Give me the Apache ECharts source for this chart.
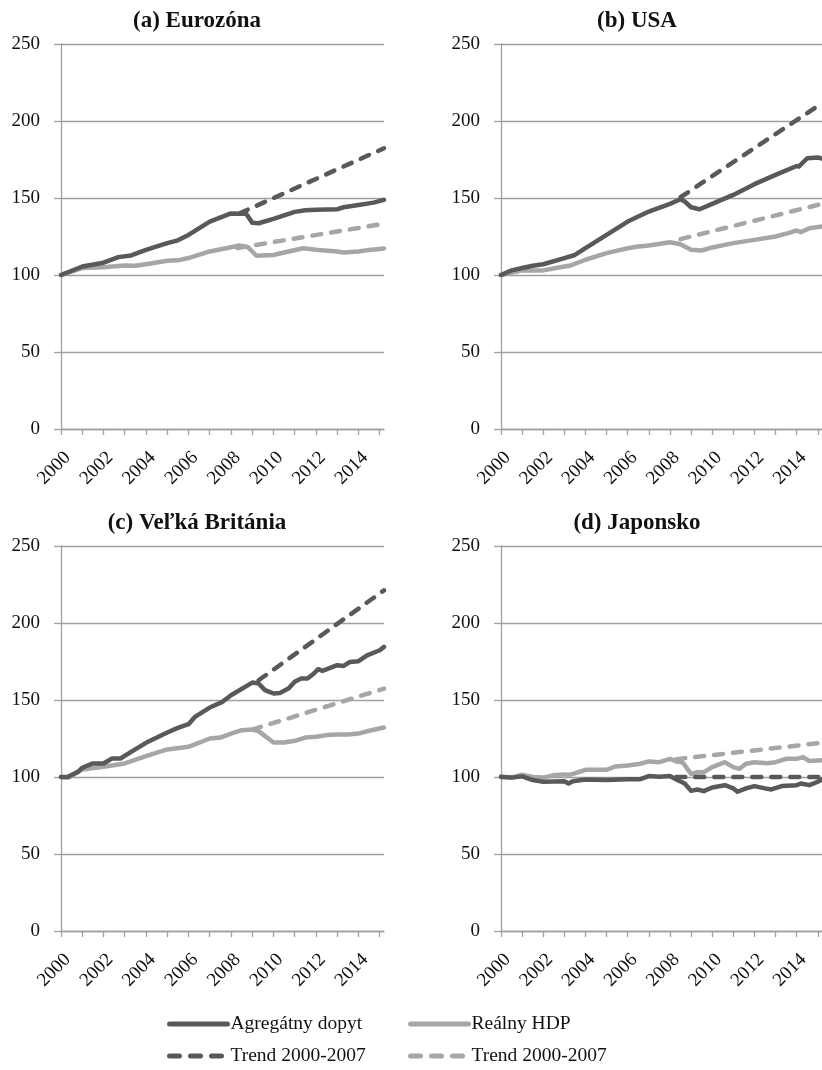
<!DOCTYPE html>
<html>
<head>
<meta charset="utf-8">
<script src="https://cdn.jsdelivr.net/npm/echarts@6/dist/echarts.min.js"></script>
<style>
html,body{margin:0;padding:0;background:#fff;}
#chart{width:822px;height:1070px;}
</style>
</head>
<body>
<div id="chart"></div>
<script>
// ---- data (index, 2000 = 100) ----
const tickYears = [2000,2001,2002,2003,2004,2005,2006,2007,2008,2009,2010,2011,2012,2013,2014,2015];
const labelYears = [2000,2002,2004,2006,2008,2010,2012,2014];
const yTicks = [0,50,100,150,200,250];

const panelTitles = ['(a) Eurozóna','(b) USA','(c) Veľká Británia','(d) Japonsko'];
const seriesNames = ['Agregátny dopyt','Reálny HDP','Trend 2000-2007 (AD)','Trend 2000-2007 (HDP)'];

const ezDemand = [[2000,100],[2001,105.5],[2002,108],[2002.7,111.6],[2003.3,112.7],[2004,116.3],[2005,120.7],[2005.5,122.5],[2006,126],[2007,134.7],[2008,140],[2008.4,139.7],[2008.7,140],[2009,134],[2009.3,133.6],[2010,136.5],[2011,141],[2011.5,142],[2012,142.3],[2013,142.7],[2013.3,144],[2014,145.5],[2014.7,147],[2015.2,148.8]];
const ezGdp = [[2000,100],[2001,104.5],[2002,105],[2003,106.2],[2003.5,106],[2004,107],[2005,109.2],[2005.5,109.5],[2006,111],[2007,115.3],[2008,118],[2008.4,119.2],[2008.8,118],[2009.2,112.5],[2010,113],[2010.5,114.6],[2011.4,117.4],[2012,116.4],[2013,115.3],[2013.3,114.6],[2014,115.3],[2014.5,116.3],[2015.2,117.2]];
const ezDemandTrend = [[2008.4,140],[2015.2,182.3]];
const ezGdpTrend = [[2008.3,117.5],[2014.9,132.6]];

const usDemand = [[2000,100],[2000.5,103],[2001,104.5],[2001.5,106],[2002,107],[2003,111],[2003.5,113],[2004,117.4],[2005,126],[2006,134.7],[2007,141.2],[2008,146.2],[2008.5,149.2],[2008.7,147.7],[2009,144],[2009.4,142.7],[2010,146.2],[2011,152],[2012,159],[2013,165],[2014,170.8],[2014.1,170.4],[2014.5,175.8],[2015,176.3],[2015.2,175.6]];
const usGdp = [[2000,100],[2001,103],[2002,103],[2003,105.5],[2003.3,106.2],[2004,109.9],[2005,114.2],[2006,117.4],[2006.5,118.5],[2007,119.2],[2008,121.3],[2008.5,120],[2009,116.4],[2009.5,115.9],[2010,117.9],[2011,120.7],[2012,122.8],[2013,125],[2013.6,127.2],[2014,128.9],[2014.2,127.8],[2014.6,130.4],[2015.2,131.5]];
const usDemandTrend = [[2008.5,150.5],[2015.2,211.5]];
const usGdpTrend = [[2008.5,123.3],[2015.2,146.2]];

const ukDemand = [[2000,100],[2000.3,100],[2000.8,103.4],[2001,106],[2001.5,108.8],[2002,108.8],[2002.4,112],[2002.8,112],[2003.3,116.3],[2004,122.2],[2005,128.9],[2005.5,131.9],[2006,134.3],[2006.3,139],[2007,145.1],[2007.6,148.8],[2008,153.1],[2009,161.3],[2009.3,160.7],[2009.6,156.4],[2010,154.2],[2010.3,154.6],[2010.7,157.4],[2011,161.8],[2011.3,163.9],[2011.6,163.9],[2011.9,167.2],[2012.1,170],[2012.3,168.9],[2013,172.6],[2013.3,172.1],[2013.6,174.7],[2014,175.2],[2014.4,179],[2015,182.3],[2015.2,184.5]];
const ukGdp = [[2000,100],[2000.4,99.7],[2001,104.9],[2002,106.6],[2003,108.8],[2004,113.5],[2005,117.9],[2006,119.6],[2007,125],[2007.5,125.6],[2008,128.2],[2008.5,130.4],[2009,130.8],[2009.3,129.8],[2010,122.4],[2010.5,122.4],[2011,123.5],[2011.5,125.6],[2012,126.1],[2012.5,127.2],[2013,127.6],[2013.5,127.6],[2014,128.2],[2014.5,130],[2015.2,132.1]];
const ukDemandTrend = [[2009.3,162.8],[2015.2,221.2]];
const ukGdpTrend = [[2009,130.8],[2015.2,157.4]];

const jpDemand = [[2000,100],[2000.5,99.6],[2001,100.4],[2001.5,98],[2002,96.9],[2003,97.3],[2003.2,95.8],[2003.4,97.3],[2004,98.4],[2005,98],[2006,98.6],[2006.6,98.6],[2007,100.6],[2007.5,100.2],[2008,100.6],[2008.3,98.4],[2008.7,95.8],[2009,91],[2009.3,91.9],[2009.6,90.8],[2010,93.2],[2010.6,94.7],[2011,92.6],[2011.2,90.4],[2011.6,92.6],[2012,94.1],[2012.5,92.6],[2012.8,91.9],[2013.3,94.1],[2014,94.7],[2014.2,95.8],[2014.6,94.7],[2015,96.9],[2015.2,98.4]];
const jpGdp = [[2000,100.4],[2000.5,99.6],[2001,101.5],[2001.5,100],[2002,99.6],[2002.5,101.1],[2003,101.7],[2003.3,101.5],[2004,104.7],[2005,104.7],[2005.4,106.8],[2006,107.5],[2006.6,108.6],[2007,110.1],[2007.5,109.6],[2008,111.8],[2008.3,110.1],[2008.6,109.6],[2009,102],[2009.3,103.1],[2009.6,103.1],[2010,106.4],[2010.6,109.6],[2011,106.4],[2011.3,105.3],[2011.6,108.6],[2012,109.6],[2012.6,109],[2013,109.6],[2013.5,111.8],[2014,111.8],[2014.3,112.9],[2014.6,110.4],[2015.2,110.8]];
const jpDemandTrend = [[2008.3,100],[2015.2,100]];
const jpGdpTrend = [[2008.3,111.6],[2015.2,122.2]];

// ---- layout / style ----
const FONT = '"Liberation Serif", "DejaVu Serif", serif';
const DARK = '#595959', LIGHT = '#a6a6a6', GRID = '#a0a0a0';
const panels = [
  {title: panelTitles[0], grid:{left:61, top:44}, titleX:197, titleY:10, d:[ezDemand, ezGdp, ezDemandTrend, ezGdpTrend]},
  {title: panelTitles[1], grid:{left:501, top:44}, titleX:637, titleY:10, d:[usDemand, usGdp, usDemandTrend, usGdpTrend]},
  {title: panelTitles[2], grid:{left:61, top:546}, titleX:197, titleY:512, d:[ukDemand, ukGdp, ukDemandTrend, ukGdpTrend]},
  {title: panelTitles[3], grid:{left:501, top:546}, titleX:637, titleY:512, d:[jpDemand, jpGdp, jpDemandTrend, jpGdpTrend]}
];

const option = {
  backgroundColor: '#fff',
  animation: false,
  title: [], grid: [], xAxis: [], yAxis: [], series: [],
  legend: []
};

panels.forEach((p, i) => {
  option.title.push({
    text: p.title, left: p.titleX, top: p.titleY, textAlign: 'center', padding: 0,
    textStyle: {fontFamily: FONT, fontWeight: 'bold', fontSize: 23, color: '#111'}
  });
  option.grid.push({left: p.grid.left, top: p.grid.top, width: 323, height: 385, containLabel: false});
  option.xAxis.push({
    type: 'value', gridIndex: i, min: 2000, max: 2015.2,
    axisLine: {show: true, onZero: false, lineStyle: {color: GRID, width: 1.3}},
    axisTick: {show: true, length: 6, customValues: tickYears, lineStyle: {color: GRID, width: 1.3}},
    axisLabel: {show: true, customValues: labelYears, rotate: 45, margin: 19, verticalAlign: 'top',
      fontFamily: FONT, fontSize: 19, color: '#111', formatter: v => String(v)},
    splitLine: {show: false}
  });
  option.yAxis.push({
    type: 'value', gridIndex: i, min: 0, max: 250, interval: 50,
    axisLine: {show: true, lineStyle: {color: GRID, width: 1.3}},
    axisTick: {show: true, length: 7, lineStyle: {color: GRID, width: 1.3}},
    axisLabel: {margin: 21, fontFamily: FONT, fontSize: 19, color: '#111'},
    splitLine: {show: true, lineStyle: {color: GRID, width: 1.3}}
  });
  const styles = [
    {color: DARK, type: 'solid', z: 4},
    {color: LIGHT, type: 'solid', z: 2},
    {color: DARK, type: [9, 10], z: 5},
    {color: LIGHT, type: [9, 10], z: 3}
  ];
  p.d.forEach((arr, k) => {
    option.series.push({
      name: seriesNames[k], type: 'line', xAxisIndex: i, yAxisIndex: i,
      data: arr, symbol: 'none', smooth: false, z: styles[k].z,
      lineStyle: {color: styles[k].color, width: 4.5, type: styles[k].type, cap: 'round', join: 'round'},
      itemStyle: {color: styles[k].color},
      emphasis: {disabled: true}
    });
  });
});

const legendPos = [
  {name: seriesNames[0], left: 167, top: 1014},
  {name: seriesNames[1], left: 408, top: 1014},
  {name: seriesNames[2], left: 167, top: 1046},
  {name: seriesNames[3], left: 408, top: 1046}
];
legendPos.forEach((l, k) => {
  option.legend.push({
    data: [l.name], left: l.left, top: l.top, padding: 0,
    itemWidth: 58, itemHeight: 12, itemGap: 0, selectedMode: false,
    itemStyle: {opacity: 0, color: 'rgba(0,0,0,0)', borderWidth: 0},
    lineStyle: {width: 5, type: k >= 2 ? [10, 11] : 'solid', cap: 'round', opacity: 1},
    textStyle: {fontFamily: FONT, fontSize: 19.5, color: '#111', padding: [0,0,0,-2]},
    formatter: n => n.replace(/ \((AD|HDP)\)$/, '')
  });
});

const chart = echarts.init(document.getElementById('chart'), null, {renderer: 'canvas'});
chart.setOption(option);
</script>
</body>
</html>
